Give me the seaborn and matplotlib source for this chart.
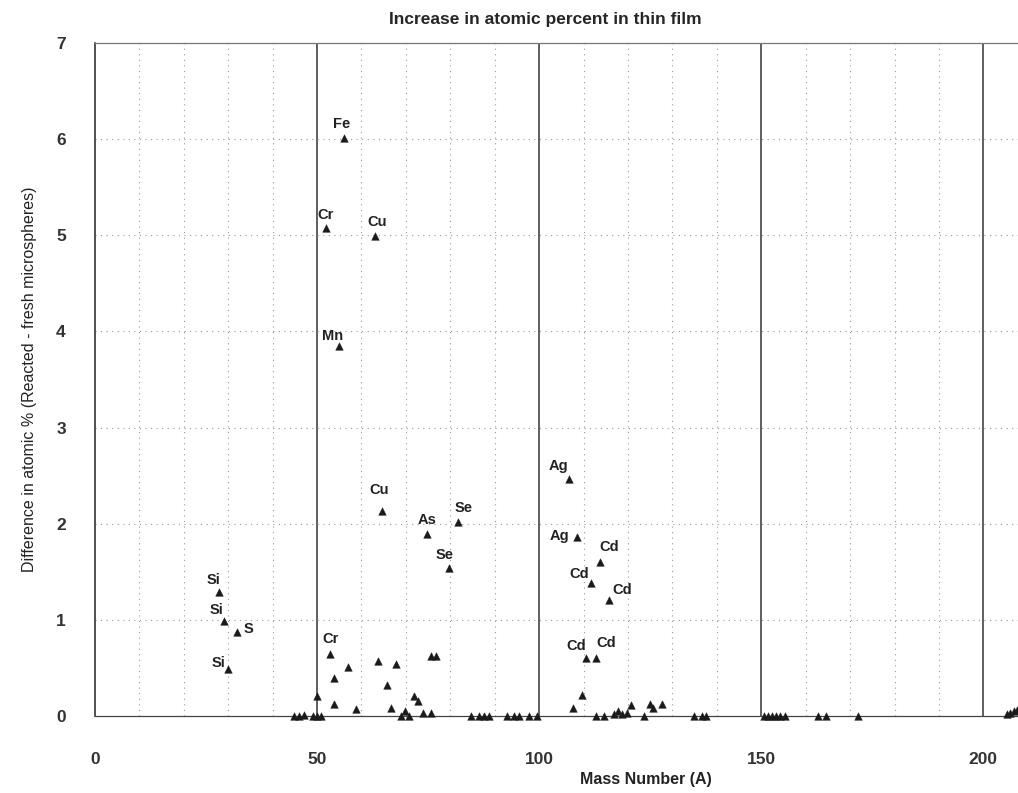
import matplotlib
matplotlib.use("Agg")
import matplotlib.pyplot as plt
import seaborn as sns
import pandas as pd
from matplotlib.ticker import MultipleLocator

# values
mass = [28, 29, 30, 32,
        44.9, 46, 47, 49.1, 50, 50, 50.9,
        52, 53, 53.8, 53.8, 55, 56, 57, 58.8,
        63, 63.7, 64.6, 65.7, 66.7, 67.7, 68.8, 69.8, 70.6,
        71.8, 72.7, 73.8, 74.7, 75.7, 75.7, 76.8, 79.6, 81.7,
        84.6, 86.5, 87.6, 88.8, 92.7, 94.4, 95.5, 97.8, 99.6,
        106.7, 107.6, 108.6, 109.6, 110.6, 111.7, 112.7, 112.7, 113.6,
        114.7, 115.7, 116.9, 117.8, 118.7, 119.7, 120.6, 123.6, 124.9,
        125.7, 127.7, 134.8, 136.6, 137.6,
        150.6, 151.5, 152.4, 153.3, 154.3, 155.3, 162.8, 164.6, 171.7,
        205.3, 206.0, 206.8, 207.5]
diff = [1.29, 0.99, 0.49, 0.87,
        0.0, 0.0, 0.01, 0.0, 0.21, 0.0, 0.0,
        5.08, 0.64, 0.40, 0.12, 3.85, 6.01, 0.51, 0.07,
        4.99, 0.57, 2.13, 0.32, 0.08, 0.54, 0.0, 0.05, 0.0,
        0.21, 0.16, 0.03, 1.89, 0.03, 0.62, 0.62, 1.54, 2.02,
        0.0, 0.0, 0.0, 0.0, 0.0, 0.0, 0.0, 0.0, 0.0,
        2.47, 0.08, 1.86, 0.22, 0.60, 1.38, 0.60, 0.0, 1.60,
        0.0, 1.21, 0.02, 0.05, 0.02, 0.03, 0.11, 0.0, 0.12,
        0.08, 0.12, 0.0, 0.0, 0.0,
        0.0, 0.0, 0.0, 0.0, 0.0, 0.0, 0.0, 0.0, 0.0,
        0.02, 0.03, 0.05, 0.06]

# labelled elements
lab_text = ["Si", "Si", "Si", "S", "Fe", "Cr", "Cu", "Mn", "Cr", "Cu", "As",
            "Se", "Se", "Ag", "Ag", "Cd", "Cd", "Cd", "Cd", "Cd"]
lab_mass = [28, 29, 30, 32, 56, 52, 63, 55, 53, 64.6, 74.7,
            81.7, 79.6, 106.7, 108.6, 113.6, 111.7, 115.7, 110.6, 112.7]
lab_diff = [1.29, 0.99, 0.49, 0.87, 6.01, 5.08, 4.99, 3.85, 0.64, 2.13, 1.89,
            2.02, 1.54, 2.47, 1.86, 1.60, 1.38, 1.21, 0.60, 0.60]
# label offsets in pixels (dx, dy)
lab_off = [(-6, 12), (-7, 11), (-10, 6), (11, 3), (-2, 14), (0, 13), (2, 14),
           (-7, 10), (0, 15), (-3, 21), (0, 14), (6, 14), (-4, 13), (-10, 13),
           (-18, 1), (10, 15), (-12, 9), (13, 10), (-10, 12), (11, 15)]

df = pd.DataFrame({"mass": mass, "diff": diff})

sns.set_style("white")
plt.rcParams["font.family"] = ["Liberation Sans", "DejaVu Sans"]

fig = plt.figure(figsize=(10.18, 7.93), dpi=100)
ax = fig.add_axes([0.0933, 0.0971, 0.9067, 0.8487])

# grid
for xv in range(10, 210, 10):
    if xv % 50 == 0:
        ax.axvline(xv, color="#333333", lw=1.1, zorder=1)
    else:
        ax.axvline(xv, color="#999999", lw=0.8, ls=(0, (1, 4)), zorder=1)
for yv in range(1, 7):
    ax.axhline(yv, color="#999999", lw=0.8, ls=(0, (1, 4)), zorder=1)

sns.scatterplot(data=df, x="mass", y="diff", marker="^", color="#1a1a1a",
                s=30, edgecolor="#1a1a1a", linewidth=0.3, ax=ax,
                clip_on=False, zorder=3)

for t, x, y, (dx, dy) in zip(lab_text, lab_mass, lab_diff, lab_off):
    ax.annotate(t, (x, y), xytext=(dx, dy), textcoords="offset pixels",
                ha="center", va="center", fontsize=10.5, fontweight="bold",
                color="#222222")

ax.set_xlim(0, 207.8)
ax.set_ylim(0, 7)
ax.xaxis.set_major_locator(MultipleLocator(50))
ax.xaxis.set_minor_locator(MultipleLocator(10))
ax.yaxis.set_major_locator(MultipleLocator(1))
ax.yaxis.set_minor_locator(MultipleLocator(0.2))
ax.tick_params(axis="x", which="major", direction="in", length=0, pad=26,
               labelsize=12.5, labelcolor="#333333")
ax.tick_params(axis="x", which="minor", direction="in", length=3, color="#444444")
ax.tick_params(axis="y", which="major", direction="in", length=3, pad=21,
               labelsize=12.5, labelcolor="#333333", color="#444444")
ax.tick_params(axis="y", which="minor", direction="in", length=3, color="#444444")

for lbl in ax.get_xticklabels() + ax.get_yticklabels():
    lbl.set_fontweight("bold")

ax.spines["right"].set_visible(False)
ax.spines["left"].set_color("#222222")
ax.spines["left"].set_linewidth(1.1)
ax.spines["bottom"].set_color("#444444")
ax.spines["bottom"].set_linewidth(0.9)
ax.spines["top"].set_color("#777777")
ax.spines["top"].set_linewidth(0.9)
ax.spines["top"].set_linestyle((0, (4, 1)))

ax.set_xlabel("Mass Number (A)", fontsize=11.5, fontweight="bold",
              color="#222222")
ax.xaxis.set_label_coords(0.597, -0.083)
ax.set_ylabel("Difference in atomic % (Reacted - fresh microspheres)",
              fontsize=11.5, labelpad=14, color="#222222")
ax.set_title("Increase in atomic percent in thin film", fontsize=12.5,
             fontweight="bold", pad=14, x=0.4875)

fig.savefig("out.png", dpi=100)
